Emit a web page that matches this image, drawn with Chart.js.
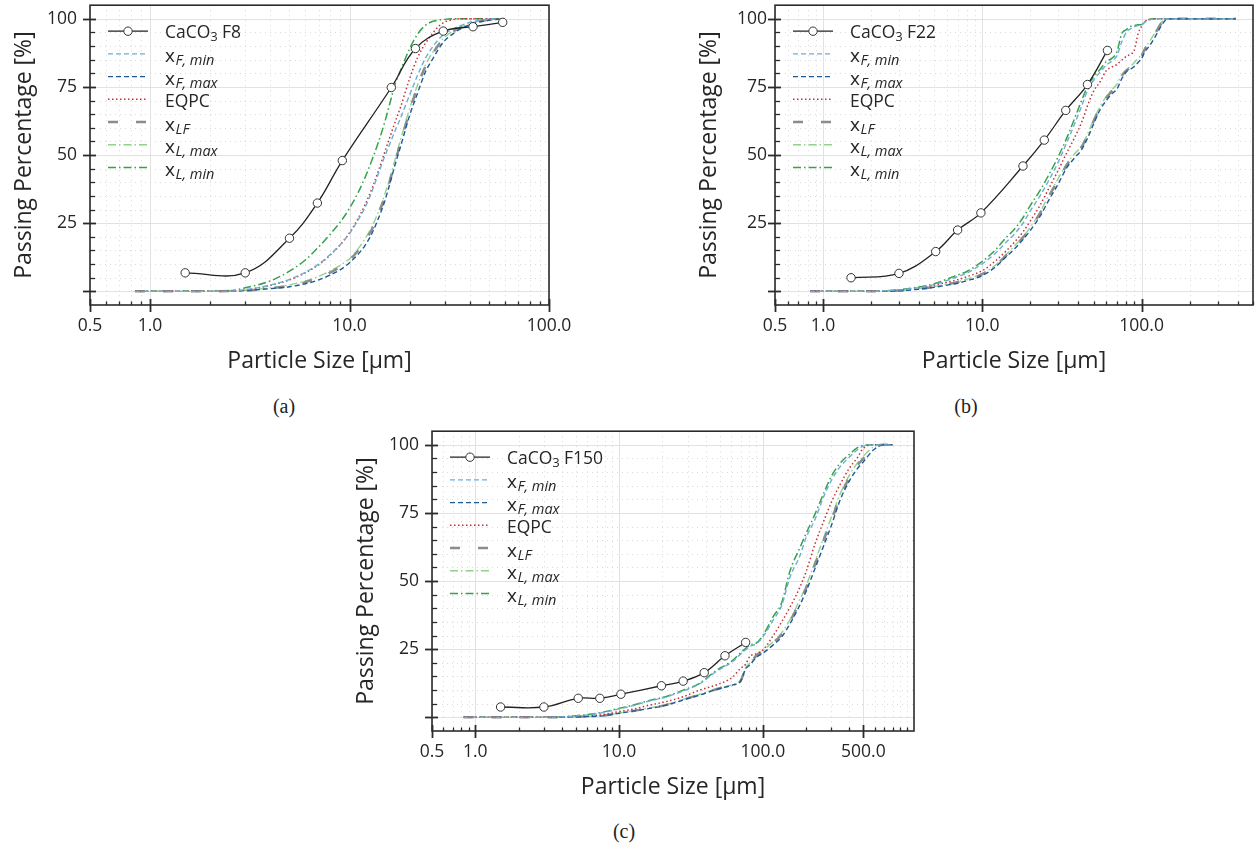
<!DOCTYPE html>
<html>
<head>
<meta charset="utf-8">
<script src="https://cdn.jsdelivr.net/npm/chart.js@4.4.0/dist/chart.umd.min.js"></script>
<style>
  body { margin: 0; background: #fff; width: 1259px; height: 848px; position: relative; overflow: hidden; }
  canvas { position: absolute; }
  .cap { position: absolute; font-family: "Liberation Serif", "Times New Roman", serif; font-size: 20px; color: #222; transform: translateX(-50%); }
</style>
</head>
<body>
<canvas id="chartA" width="580" height="385" style="left:0;top:0"></canvas>
<canvas id="chartB" width="574" height="385" style="left:685px;top:0"></canvas>
<canvas id="chartC" width="603" height="385" style="left:342px;top:426px"></canvas>
<div class="cap" style="left:284px;top:395px">(a)</div>
<div class="cap" style="left:966px;top:395px">(b)</div>
<div class="cap" style="left:624px;top:820px">(c)</div>
<script>
const FF = "'Open Sans', 'Noto Sans', sans-serif";
Chart.defaults.font.family = FF;
Chart.defaults.color = "#262626";

// ---- (a) CaCO3 F8 ----
const f8Size = [1.5, 3, 5, 6.9, 9.2, 16.2, 21.4, 29.5, 41.6, 58.6];
const f8Pass = [6.8, 6.8, 19.5, 32.4, 48, 74.8, 89.1, 95.5, 97.1, 98.7];
const sizesA = [0.84, 2, 2.5, 3, 4, 5, 6, 7, 8, 9, 10, 11, 12, 13, 14, 15, 16, 17, 18, 20, 22, 24, 26, 28, 30, 33, 36, 40, 45, 50, 60];
const xFminA = [0, 0, 0.1, 0.6, 2.3, 4.4, 7, 10, 13.5, 17.2, 21.2, 26, 31, 37, 43.5, 49.5, 54.5, 59.3, 63.5, 72, 79.5, 85.5, 89.5, 92.5, 94.5, 96.3, 97.5, 98.7, 99.5, 99.9, 100];
const xFmaxA = [0, 0, 0, 0.3, 1, 1.7, 2.8, 4.2, 6, 8, 10.5, 13.5, 17, 21.5, 27, 33, 40, 47, 53, 64.5, 73, 80.5, 85, 89, 92, 94.5, 96.3, 97.8, 98.9, 99.5, 100];
const eqpcA = [0, 0, 0.1, 0.5, 2.2, 4.2, 6.8, 9.8, 13.3, 17.2, 21.5, 26.5, 32, 38, 44.5, 51, 57, 62.5, 67.5, 78, 86, 91, 94.5, 97.3, 98.8, 99.7, 100, 100, 100, 100, 100];
const xLFA = [0, 0, 0.1, 0.3, 1.1, 2.1, 3.4, 5, 6.9, 9, 11.5, 14.8, 18.7, 23, 28.5, 34.5, 41, 48, 54.5, 66, 75.5, 82.5, 87, 90.5, 93, 95.3, 96.9, 98.2, 99.1, 99.7, 100];
const xLmaxA = [0, 0, 0.1, 0.4, 1.3, 2.4, 3.8, 5.5, 7.5, 9.6, 12, 15.5, 19.5, 24, 29.5, 35.5, 42, 49, 55.5, 67, 76, 83, 87.5, 90.8, 93.3, 95.5, 97, 98.3, 99.2, 99.7, 100];
const xLminA = [0, 0, 0.2, 1.3, 3.8, 7.4, 11.5, 16.3, 21, 25.5, 30.5, 36, 42, 48.5, 55, 62, 69.5, 76.5, 81, 89, 94.5, 97.6, 99, 99.5, 99.8, 100, 100, 100, 100, 100, 100];

// ---- (b) CaCO3 F22 ----
const f22Size = [1.5, 3, 5.1, 7, 9.8, 18, 24.5, 33.4, 45.7, 61];
const f22Pass = [5, 6.6, 14.6, 22.5, 28.8, 46, 55.5, 66.4, 75.9, 88.4];
const sizesB = [0.83, 2, 2.5, 3, 4, 5, 6, 7, 8, 10, 12, 14, 16, 18, 20, 23, 26, 30, 34, 38, 42, 46, 50, 55, 60, 65, 70, 75, 80, 85, 90, 95, 100, 105, 110, 120, 130, 140, 150, 160, 200, 390];
const xFminB = [0, 0, 0.2, 0.5, 1.4, 2.5, 4, 5.4, 6.7, 10.1, 13.8, 17.8, 21.2, 25, 29.5, 35, 40.5, 47.5, 54.8, 61.5, 68, 74, 77.5, 80.5, 83, 84.5, 86.5, 91.5, 95, 96.3, 97, 97.5, 97.8, 98.8, 99.5, 99.9, 100, 100, 100, 100, 100, 100];
const xFmaxB = [0, 0, 0, 0.2, 0.8, 1.5, 2.3, 3, 3.9, 5.8, 8.8, 12.5, 15.7, 19, 22.3, 27.5, 33.2, 39.5, 45.5, 49, 52, 56.5, 61.5, 66.8, 70, 72.5, 74.2, 78, 80.5, 81.5, 82.5, 84, 85.5, 88, 89.5, 92.8, 96.5, 99.3, 100, 100, 100, 100];
const eqpcB = [0, 0, 0.1, 0.4, 1.3, 2.3, 3.3, 4.3, 5.4, 7.6, 11, 14.6, 18.2, 21.8, 25.8, 31.5, 37.5, 44.5, 51, 56.5, 62, 68.5, 73.5, 77, 81, 82.3, 83.3, 84.8, 86.2, 87, 88.5, 94.5, 97.3, 99, 99.6, 100, 100, 100, 100, 100, 100, 100];
const xLFB = [0, 0, 0.1, 0.3, 0.9, 1.7, 2.6, 3.4, 4.3, 6.3, 9.3, 13, 16.5, 19.8, 23.2, 28.6, 34.5, 41, 46.5, 50, 53, 57.5, 62.5, 67.5, 71, 73.5, 75.5, 79, 81, 82.2, 83.5, 85, 86.5, 89, 90.5, 94, 97.5, 99.6, 100, 100, 100, 100];
const xLmaxB = [0, 0, 0.1, 0.3, 1, 1.8, 2.7, 3.5, 4.5, 6.5, 9.5, 13.3, 16.8, 20, 23.5, 29, 35, 41.5, 47, 50.5, 53.5, 58, 63, 68, 71.5, 74, 76, 79.5, 81.3, 82.5, 84, 85.5, 87, 89.3, 91, 94.5, 98, 99.8, 100, 100, 100, 100];
const xLminB = [0, 0, 0.2, 0.6, 1.6, 2.8, 4.5, 6, 7.3, 11, 15, 19.5, 23, 27, 31.5, 37, 42.5, 49.5, 56.5, 63.5, 70, 75.5, 78.7, 81.5, 84.3, 85.5, 88, 94.5, 96, 97.2, 97.5, 97.8, 97.9, 99, 99.7, 100, 100, 100, 100, 100, 100, 100];

// ---- (c) CaCO3 F150 ----
const f150Size = [1.5, 3, 5.2, 7.35, 10.3, 19.7, 27.9, 39.1, 54.5, 75.9];
const f150Pass = [3.8, 3.8, 7, 7, 8.5, 11.6, 13.3, 16.4, 22.6, 27.5];
const sizesC = [0.83, 3, 4, 5, 6, 7.5, 10, 12.5, 16, 21, 28, 36, 48, 55, 62, 70, 76, 81, 90, 100, 118, 135, 155, 180, 200, 230, 265, 300, 345, 400, 450, 500, 590, 690, 800];
const xFminC = [0, 0, 0.2, 0.5, 0.9, 1.6, 3.1, 4.3, 5.9, 7.4, 9.7, 12.2, 17, 18.8, 20.6, 23.2, 24.8, 26, 27, 29.5, 35.7, 41, 51.7, 59, 66, 72.5, 81, 87, 92, 95.5, 98, 99.5, 100, 100, 100];
const xFmaxC = [0, 0, 0.1, 0.2, 0.3, 0.5, 1.5, 2.3, 3.2, 4.4, 6.4, 8.1, 10.3, 11.1, 11.9, 13.2, 17.8, 19.2, 22, 23.5, 26.6, 29.5, 34.5, 41, 46.3, 54.5, 63, 70.5, 79.8, 86.8, 91, 93.8, 98.2, 100, 100];
const eqpcC = [0, 0, 0.1, 0.3, 0.5, 0.9, 2.1, 3, 4.4, 5.7, 7.6, 9.9, 12, 13.2, 14.9, 18, 19.5, 22.3, 23.4, 24.7, 30, 35, 40.6, 47.5, 53.5, 63.5, 72, 79, 85.5, 91.5, 95, 98.7, 100, 100, 100];
const xLFC = [0, 0, 0.1, 0.2, 0.3, 0.55, 1.55, 2.35, 3.3, 4.5, 6.5, 8.3, 10.4, 11.2, 12, 13.4, 18, 19.5, 22.6, 24.1, 27.3, 30.4, 35.4, 42.2, 47.5, 56, 65, 72.3, 81, 88, 92.2, 95, 99, 100, 100];
const xLmaxC = [0, 0, 0.1, 0.2, 0.35, 0.6, 1.6, 2.4, 3.4, 4.6, 6.6, 8.4, 10.5, 11.3, 12.1, 13.6, 18.3, 19.8, 23, 24.5, 27.8, 31, 36, 43, 48.3, 57, 66, 73.5, 82, 89, 93, 95.8, 99.3, 100, 100];
const xLminC = [0, 0, 0.2, 0.6, 1, 1.8, 3.3, 4.5, 6.1, 7.6, 10, 12.4, 17.4, 19.2, 21, 23.7, 25.3, 26.5, 27.2, 30, 37, 42, 54, 62, 67.5, 74.5, 82.3, 88.5, 93.3, 96.5, 98.8, 99.8, 100, 100, 100];

const yTickVals = [0, 5, 10, 15, 20, 25, 30, 35, 40, 45, 50, 55, 60, 65, 70, 75, 80, 85, 90, 95, 100];
const yLabelVals = [25, 50, 75, 100];

// line styles, in legend order after the CaCO3 entry
const curveStyles = [
  { sub: "F, min", color: "#6aaed6", dash: [5, 3], width: 1.4 },
  { sub: "F, max", color: "#1f5a96", dash: [5, 3], width: 1.4 },
  { text: "EQPC", color: "#c62f36", dash: [1.5, 2.5], width: 1.5 },
  { sub: "LF", color: "#8c8c8c", dash: [10, 18], width: 2.5 },
  { sub: "L, max", color: "#92d28a", dash: [8, 3, 1.5, 3], width: 1.4 },
  { sub: "L, min", color: "#35a24a", dash: [8, 3, 1.5, 3], width: 1.5 },
];

function logTicks(min, max) {
  const out = [];
  for (let e = -1; e <= 3; e++) {
    for (let k = 1; k <= 9; k++) {
      const v = +(k * Math.pow(10, e)).toPrecision(3);
      if (v >= min - 1e-9 && v <= max + 1e-9) out.push(v);
    }
  }
  return out;
}

const framePlugin = {
  id: "frame",
  beforeDatasetsDraw(chart, args, o) {
    const { ctx, chartArea: a, scales } = chart;
    ctx.save();
    ctx.lineWidth = 1;
    o.xTicks.forEach(v => {
      const p = Math.round(scales.x.getPixelForValue(v)) + 0.5;
      const major = o.xMajor.includes(v);
      ctx.strokeStyle = major ? "#e2e2e2" : "#dadada";
      ctx.setLineDash(major ? [] : [1, 4]);
      ctx.beginPath(); ctx.moveTo(p, a.top); ctx.lineTo(p, a.bottom); ctx.stroke();
    });
    yTickVals.forEach(v => {
      const p = Math.round(scales.y.getPixelForValue(v)) + 0.5;
      const major = v % 25 === 0;
      ctx.strokeStyle = major ? "#e2e2e2" : "#dadada";
      ctx.setLineDash(major ? [] : [1, 4]);
      ctx.beginPath(); ctx.moveTo(a.left, p); ctx.lineTo(a.right, p); ctx.stroke();
    });
    ctx.restore();
  },
  afterDatasetsDraw(chart, args, o) {
    const { ctx, chartArea: a, scales } = chart;
    ctx.save();
    ctx.setLineDash([]);
    ctx.strokeStyle = "#2b2b2b";
    ctx.lineWidth = 1.6;
    ctx.strokeRect(a.left, a.top, a.right - a.left, a.bottom - a.top);
    // x ticks
    o.xTicks.forEach(v => {
      const p = Math.round(scales.x.getPixelForValue(v)) + 0.5;
      const major = o.xMajor.includes(v);
      ctx.lineWidth = major ? 1.8 : 1.3;
      ctx.beginPath();
      ctx.moveTo(p, a.bottom - (major ? 6 : 3.5));
      ctx.lineTo(p, a.bottom + (major ? 7 : 0));
      ctx.stroke();
    });
    // y ticks
    yTickVals.forEach(v => {
      const p = Math.round(scales.y.getPixelForValue(v)) + 0.5;
      const major = v % 25 === 0;
      ctx.lineWidth = major ? 1.8 : 1.3;
      ctx.beginPath();
      ctx.moveTo(a.left - (major ? 7 : 0), p);
      ctx.lineTo(a.left + (major ? 6 : 5), p);
      ctx.stroke();
    });
    // legend
    const x0 = a.left + 18, x1 = a.left + 58, tx = a.left + 75;
    chart.data.datasets.forEach((ds, i) => {
      const y = a.top + 26 + i * 22.7;
      ctx.strokeStyle = ds.borderColor;
      ctx.lineWidth = ds.borderWidth;
      ctx.setLineDash(ds.borderDash || []);
      ctx.beginPath(); ctx.moveTo(x0, y); ctx.lineTo(x1, y); ctx.stroke();
      ctx.setLineDash([]);
      ctx.fillStyle = "#262626";
      ctx.textAlign = "left";
      ctx.textBaseline = "alphabetic";
      if (i === 0) {
        ctx.beginPath();
        ctx.arc((x0 + x1) / 2, y, ds.pointRadius, 0, Math.PI * 2);
        ctx.fillStyle = "#fff"; ctx.fill();
        ctx.lineWidth = 1; ctx.strokeStyle = "#333"; ctx.stroke();
        ctx.fillStyle = "#262626";
        ctx.font = "17.5px " + FF;
        ctx.fillText("CaCO", tx, y + 6.7);
        let w = ctx.measureText("CaCO").width;
        ctx.font = "12.5px " + FF;
        ctx.fillText("3", tx + w, y + 9.8);
        w += ctx.measureText("3").width;
        ctx.font = "17.5px " + FF;
        ctx.fillText(" " + o.name, tx + w, y + 6.7);
      } else {
        const st = curveStyles[i - 1];
        if (st.text) {
          ctx.font = "17.5px " + FF;
          ctx.fillText(st.text, tx, y + 7.4);
        } else {
          ctx.font = "19px " + FF;
          ctx.fillText("x", tx, y + 8.5);
          const w = ctx.measureText("x").width;
          ctx.font = "italic 14.5px " + FF;
          ctx.fillText(st.sub, tx + w + 0.5, y + 11.5);
        }
      }
    });
    ctx.restore();
  },
};

function makeChart(id, c) {
  const xTicks = logTicks(0.5, c.xMax);
  const curves = [c.fmin, c.fmax, c.eqpc, c.lf, c.lmax, c.lmin];
  const datasets = [{
    label: "CaCO3 " + c.name,
    data: c.fSize.map((s, i) => ({ x: s, y: c.fPass[i] })),
    borderColor: "#222",
    borderWidth: 1.3,
    tension: 0.4,
    pointRadius: 4.2,
    pointBackgroundColor: "#fff",
    pointBorderColor: "#333",
    pointBorderWidth: 1,
  }];
  curves.forEach((vals, k) => {
    const st = curveStyles[k];
    datasets.push({
      label: st.text || "x_" + st.sub,
      data: c.sizes.map((s, i) => ({ x: s, y: vals[i] })),
      borderColor: st.color,
      borderWidth: st.width,
      borderDash: st.dash,
      pointRadius: 0,
      cubicInterpolationMode: "monotone",
    });
  });
  return new Chart(document.getElementById(id), {
    type: "line",
    data: { datasets },
    plugins: [framePlugin],
    options: {
      responsive: false,
      animation: false,
      devicePixelRatio: 1,
      layout: { padding: { left: 0, top: 5, right: c.padRight, bottom: 0 } },
      plugins: {
        legend: { display: false },
        tooltip: { enabled: false },
        frame: { xTicks, xMajor: c.xMajor, name: c.name },
      },
      scales: {
        x: {
          type: "logarithmic",
          min: 0.5,
          max: c.xMax,
          afterBuildTicks: s => { s.ticks = xTicks.map(v => ({ value: v })); },
          afterFit: s => { s.height = 80; s.paddingLeft = 0; s.paddingRight = 0; s.paddingTop = 0; s.paddingBottom = 0; },
          grid: { display: false, drawTicks: false },
          border: { display: false },
          ticks: {
            autoSkip: false, maxRotation: 0, minRotation: 0, padding: 11,
            font: { size: 17.5 }, color: "#262626",
            callback: v => (c.xLabels.includes(v) ? v.toFixed(1) : ""),
          },
          title: { display: true, text: "Particle Size [μm]", font: { size: 23 }, color: "#262626", padding: { top: 0, bottom: 10 } },
        },
        y: {
          type: "linear",
          min: -5,
          max: 105,
          afterBuildTicks: s => { s.ticks = yTickVals.map(v => ({ value: v })); },
          afterFit: s => { s.width = 90; s.paddingLeft = 0; s.paddingRight = 0; s.paddingTop = 0; s.paddingBottom = 0; },
          grid: { display: false, drawTicks: false },
          border: { display: false },
          ticks: {
            autoSkip: false, padding: c.yPad,
            font: { size: 17.5 }, color: "#262626",
            callback: v => (yLabelVals.includes(v) ? String(v) : ""),
          },
          title: { display: true, text: "Passing Percentage [%]", font: { size: 23 }, color: "#262626", padding: { top: 11, bottom: 0 } },
        },
      },
    },
  });
}

makeChart("chartA", {
  name: "F8", fSize: f8Size, fPass: f8Pass, sizes: sizesA,
  fmin: xFminA, fmax: xFmaxA, eqpc: eqpcA, lf: xLFA, lmax: xLmaxA, lmin: xLminA,
  xMax: 100, xMajor: [0.5, 1, 10, 100], xLabels: [0.5, 1, 10, 100], padRight: 31, yPad: 13,
});
makeChart("chartB", {
  name: "F22", fSize: f22Size, fPass: f22Pass, sizes: sizesB,
  fmin: xFminB, fmax: xFmaxB, eqpc: eqpcB, lf: xLFB, lmax: xLmaxB, lmin: xLminB,
  xMax: 500, xMajor: [0.5, 1, 10, 100], xLabels: [0.5, 1, 10, 100], padRight: 6, yPad: 8,
});
makeChart("chartC", {
  name: "F150", fSize: f150Size, fPass: f150Pass, sizes: sizesC,
  fmin: xFminC, fmax: xFmaxC, eqpc: eqpcC, lf: xLFC, lmax: xLmaxC, lmin: xLminC,
  xMax: 1125, xMajor: [0.5, 1, 10, 100, 500], xLabels: [0.5, 1, 10, 100, 500], padRight: 31, yPad: 13,
});
</script>
</body>
</html>
